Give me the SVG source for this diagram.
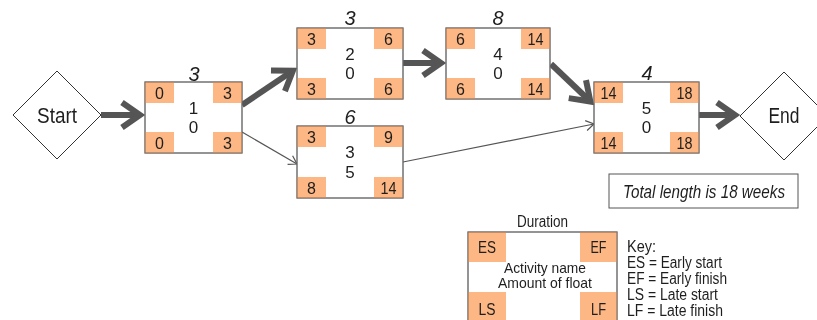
<svg xmlns="http://www.w3.org/2000/svg" width="817" height="320" viewBox="0 0 817 320">
<defs>
<style>
text{font-family:"Liberation Sans",Arial,sans-serif;fill:#1e1e1e}
.box{fill:#fff;stroke:#9a9a9a;stroke-width:1.2}
.edge{fill:none;stroke:#9a9a9a;stroke-width:1.2;mix-blend-mode:multiply}
.cell{fill:#fdb784}
.cn{font-size:16px;text-anchor:middle}
.mid{font-size:17px;text-anchor:middle}
.dur{font-size:20px;font-style:italic;text-anchor:middle}
.dia{fill:#fff;stroke:#333;stroke-width:1}
.thick{fill:none;stroke:#555;stroke-width:6}
.thin{fill:none;stroke:#555;stroke-width:1.2}
.key{font-size:16px}
</style>
<marker id="ah" markerUnits="userSpaceOnUse" viewBox="-25 -16 32 32" markerWidth="32" markerHeight="32" refX="0" refY="0" orient="auto" overflow="visible">
<path d="M-18,-12.5 L0,0 L-18,12.5" fill="none" stroke="#555" stroke-width="6" stroke-linejoin="miter" stroke-miterlimit="10"/>
</marker>
<marker id="ahs" markerUnits="userSpaceOnUse" viewBox="-10 -7 12 14" markerWidth="12" markerHeight="14" refX="0" refY="0" orient="auto" overflow="visible">
<path d="M-8,-5 L0,0 L-8,5" fill="none" stroke="#555" stroke-width="1.2"/>
</marker>
</defs>
<rect width="817" height="320" fill="#fff"/>

<g id="connectors">
<line class="thick" x1="101" y1="115" x2="140" y2="115" marker-end="url(#ah)"/>
<line class="thick" x1="242" y1="105" x2="292.9" y2="70.8" marker-end="url(#ah)"/>
<line class="thick" x1="403" y1="63" x2="441" y2="63" marker-end="url(#ah)"/>
<line class="thick" x1="551" y1="64" x2="590.4" y2="101.5" marker-end="url(#ah)"/>
<line class="thick" x1="699" y1="115" x2="735" y2="115" marker-end="url(#ah)"/>
<line class="thin" x1="242" y1="132" x2="297" y2="164" marker-end="url(#ahs)"/>
<line class="thin" x1="403" y1="162" x2="594" y2="124" marker-end="url(#ahs)"/>
</g>

<g id="start">
<polygon class="dia" points="13,115 57,71 101,115 57,159"/>
<text x="57" y="123" font-size="22" text-anchor="middle" textLength="40" lengthAdjust="spacingAndGlyphs">Start</text>
</g>

<g id="end">
<polygon class="dia" points="740,116 784,72 828,116 784,160"/>
<text x="784" y="123" font-size="22" text-anchor="middle" textLength="31" lengthAdjust="spacingAndGlyphs">End</text>
</g>

<g id="node1">
<rect class="box" x="145" y="82" width="97" height="71"/>
<rect class="cell" x="145" y="82" width="29" height="21"/>
<rect class="cell" x="213" y="82" width="29" height="21"/>
<rect class="cell" x="145" y="132" width="29" height="21"/>
<rect class="cell" x="213" y="132" width="29" height="21"/>
<rect class="edge" x="145" y="82" width="97" height="71"/>
<text class="dur" x="194" y="81">3</text>
<text class="cn" x="159.5" y="99">0</text>
<text class="cn" x="227.5" y="99">3</text>
<text class="cn" x="159.5" y="149">0</text>
<text class="cn" x="227.5" y="149">3</text>
<text class="mid" x="193.5" y="114">1</text>
<text class="mid" x="193.5" y="133">0</text>
</g>

<g id="node2">
<rect class="box" x="297" y="28" width="106" height="71"/>
<rect class="cell" x="297" y="28" width="29" height="21"/>
<rect class="cell" x="374" y="28" width="29" height="21"/>
<rect class="cell" x="297" y="78" width="29" height="21"/>
<rect class="cell" x="374" y="78" width="29" height="21"/>
<rect class="edge" x="297" y="28" width="106" height="71"/>
<text class="dur" x="350" y="25">3</text>
<text class="cn" x="311.5" y="45">3</text>
<text class="cn" x="388.5" y="45">6</text>
<text class="cn" x="311.5" y="95">3</text>
<text class="cn" x="388.5" y="95">6</text>
<text class="mid" x="350" y="60">2</text>
<text class="mid" x="350" y="79">0</text>
</g>

<g id="node4">
<rect class="box" x="446" y="28" width="104" height="71"/>
<rect class="cell" x="446" y="28" width="29" height="21"/>
<rect class="cell" x="521" y="28" width="29" height="21"/>
<rect class="cell" x="446" y="78" width="29" height="21"/>
<rect class="cell" x="521" y="78" width="29" height="21"/>
<rect class="edge" x="446" y="28" width="104" height="71"/>
<text class="dur" x="498" y="25">8</text>
<text class="cn" x="460.5" y="45">6</text>
<text class="cn" x="535.5" y="45" textLength="16" lengthAdjust="spacingAndGlyphs">14</text>
<text class="cn" x="460.5" y="95">6</text>
<text class="cn" x="535.5" y="95" textLength="16" lengthAdjust="spacingAndGlyphs">14</text>
<text class="mid" x="498" y="60">4</text>
<text class="mid" x="498" y="79">0</text>
</g>

<g id="node3">
<rect class="box" x="297" y="126" width="106" height="72"/>
<rect class="cell" x="297" y="126" width="29" height="21"/>
<rect class="cell" x="374" y="126" width="29" height="21"/>
<rect class="cell" x="297" y="177" width="29" height="21"/>
<rect class="cell" x="374" y="177" width="29" height="21"/>
<rect class="edge" x="297" y="126" width="106" height="72"/>
<text class="dur" x="350" y="124">6</text>
<text class="cn" x="311.5" y="143">3</text>
<text class="cn" x="388.5" y="143">9</text>
<text class="cn" x="311.5" y="194">8</text>
<text class="cn" x="388.5" y="194" textLength="16" lengthAdjust="spacingAndGlyphs">14</text>
<text class="mid" x="350" y="158">3</text>
<text class="mid" x="350" y="178">5</text>
</g>

<g id="node5">
<rect class="box" x="594" y="82" width="105" height="71"/>
<rect class="cell" x="594" y="82" width="29" height="21"/>
<rect class="cell" x="670" y="82" width="29" height="21"/>
<rect class="cell" x="594" y="132" width="29" height="21"/>
<rect class="cell" x="670" y="132" width="29" height="21"/>
<rect class="edge" x="594" y="82" width="105" height="71"/>
<text class="dur" x="647" y="80">4</text>
<text class="cn" x="608.5" y="99" textLength="16" lengthAdjust="spacingAndGlyphs">14</text>
<text class="cn" x="684.5" y="99" textLength="16" lengthAdjust="spacingAndGlyphs">18</text>
<text class="cn" x="608.5" y="149" textLength="16" lengthAdjust="spacingAndGlyphs">14</text>
<text class="cn" x="684.5" y="149" textLength="16" lengthAdjust="spacingAndGlyphs">18</text>
<text class="mid" x="646.5" y="114">5</text>
<text class="mid" x="646.5" y="133">0</text>
</g>

<g id="total">
<rect x="609" y="174" width="189" height="34" fill="#fff" stroke="#555" stroke-width="1"/>
<text x="704" y="198" font-size="18" font-style="italic" text-anchor="middle" textLength="162" lengthAdjust="spacingAndGlyphs">Total length is 18 weeks</text>
</g>

<g id="key">
<text x="542.5" y="227" font-size="16" text-anchor="middle" textLength="51" lengthAdjust="spacingAndGlyphs">Duration</text>
<rect class="box" x="468" y="232" width="149" height="92"/>
<rect class="cell" x="468" y="232" width="38" height="30"/>
<rect class="cell" x="580" y="232" width="37" height="30"/>
<rect class="cell" x="468" y="292" width="38" height="32"/>
<rect class="cell" x="580" y="292" width="37" height="32"/>
<rect class="edge" x="468" y="232" width="149" height="92"/>
<text class="cn" x="487" y="253" textLength="18" lengthAdjust="spacingAndGlyphs">ES</text>
<text class="cn" x="598.5" y="253" textLength="16" lengthAdjust="spacingAndGlyphs">EF</text>
<text class="cn" x="487" y="315" textLength="17" lengthAdjust="spacingAndGlyphs">LS</text>
<text class="cn" x="598.5" y="315" textLength="15" lengthAdjust="spacingAndGlyphs">LF</text>
<text x="545" y="272.5" font-size="15" text-anchor="middle" textLength="82" lengthAdjust="spacingAndGlyphs">Activity name</text>
<text x="545" y="288" font-size="15" text-anchor="middle" textLength="94" lengthAdjust="spacingAndGlyphs">Amount of float</text>
<text class="key" x="627" y="252" textLength="29" lengthAdjust="spacingAndGlyphs">Key:</text>
<text class="key" x="627" y="268" textLength="95" lengthAdjust="spacingAndGlyphs">ES = Early start</text>
<text class="key" x="627" y="284" textLength="100" lengthAdjust="spacingAndGlyphs">EF = Early finish</text>
<text class="key" x="627" y="300" textLength="91" lengthAdjust="spacingAndGlyphs">LS = Late start</text>
<text class="key" x="627" y="316" textLength="96" lengthAdjust="spacingAndGlyphs">LF = Late finish</text>
</g>
</svg>
